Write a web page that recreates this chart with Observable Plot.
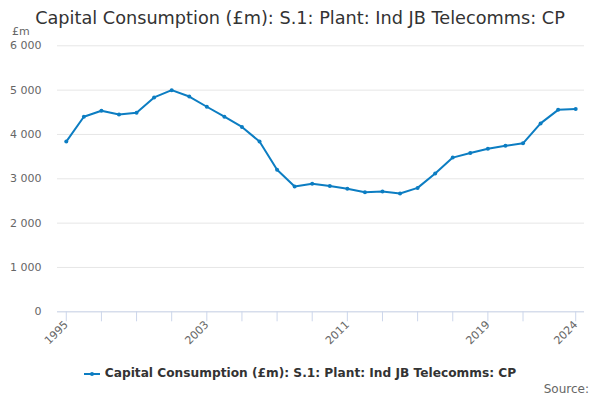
<!DOCTYPE html>
<html>
<head>
<meta charset="utf-8">
<script src="https://cdn.jsdelivr.net/npm/d3@7"></script>
<script src="https://cdn.jsdelivr.net/npm/@observablehq/plot@0.6"></script>
<style>
  html, body { margin: 0; padding: 0; background: #fff; }
  #wrap { position: relative; width: 600px; height: 400px; overflow: hidden; font-family: "DejaVu Sans", Verdana, sans-serif; }
  #title { position: absolute; left: 0; top: 7px; width: 600px; text-align: center; font-size: 17.7px; color: #333333; line-height: 22px; }
  #unit { position: absolute; left: 12px; top: 25px; font-size: 11px; color: #666666; }
  #legend { position: absolute; left: 0; top: 365px; width: 600px; text-align: center; font-size: 12.2px; font-weight: bold; color: #333333; line-height: 16px; }
  #legend svg { vertical-align: middle; margin-right: 5px; }
  #source { position: absolute; right: 11px; top: 382px; font-size: 12px; color: #666666; }
  #chart { position: absolute; left: 0; top: 0; }
</style>
</head>
<body>
<div id="wrap">
  <div id="chart"></div>
  <div id="title"></div>
  <div id="unit">£m</div>
  <div id="legend"></div>
  <div id="source">Source:</div>
</div>
<script>
const title = "Capital Consumption (£m): S.1: Plant: Ind JB Telecomms: CP";
const seriesName = "Capital Consumption (£m): S.1: Plant: Ind JB Telecomms: CP";
const years = [1995,1996,1997,1998,1999,2000,2001,2002,2003,2004,2005,2006,2007,2008,2009,2010,2011,2012,2013,2014,2015,2016,2017,2018,2019,2020,2021,2022,2023,2024];
const values = [3840,4400,4535,4450,4490,4835,5000,4855,4625,4400,4170,3840,3205,2825,2890,2835,2775,2695,2715,2670,2795,3120,3478,3580,3676,3743,3801,4250,4555,4577];
const yTicks = [0,1000,2000,3000,4000,5000,6000];
const xTickMarks = [1995,1997,1999,2001,2003,2005,2007,2009,2011,2013,2015,2017,2019,2021,2024];
const xTickLabels = [1995,2003,2011,2019,2024];
const color = "#0c7dc2";

const data = years.map((y, i) => ({year: y, value: values[i]}));
const fmt = v => d3.format(",")(v).replace(/,/g, "\u00a0");

document.getElementById("title").textContent = title;
document.getElementById("legend").innerHTML =
  `<svg width="16" height="10"><line x1="0" x2="16" y1="5" y2="5" stroke="${color}" stroke-width="2"/><circle cx="8" cy="5" r="2" fill="${color}"/></svg>`;
document.getElementById("legend").appendChild(document.createTextNode(seriesName));

const chart = Plot.plot({
  width: 600,
  height: 400,
  marginLeft: 57,
  marginRight: 16,
  marginTop: 45.3,
  marginBottom: 88.7,
  style: {fontFamily: "DejaVu Sans, Verdana, sans-serif", fontSize: "11px", color: "#666666", background: "transparent"},
  x: {domain: [1994.5, 2024.5]},
  y: {domain: [0, 6000]},
  marks: [
    Plot.gridY(yTicks, {stroke: "#e6e6e6", strokeOpacity: 1}),
    Plot.axisY(yTicks, {tickSize: 0, tickPadding: 16, tickFormat: fmt, label: null, fill: "#666666"}),
    Plot.ruleY([0], {stroke: "#ccd6eb"}),
    Plot.axisX(xTickMarks, {tickSize: 10, tickFormat: () => "", label: null, stroke: "#ccd6eb", strokeOpacity: 1}),
    Plot.axisX(xTickLabels, {tickSize: 0, tickPadding: 11, tickRotate: -45, tickFormat: d => String(d), label: null, fill: "#666666"}),
    Plot.line(data, {x: "year", y: "value", stroke: color, strokeWidth: 2}),
    Plot.dot(data, {x: "year", y: "value", r: 2, fill: color, stroke: null})
  ]
});
document.getElementById("chart").appendChild(chart);
</script>
</body>
</html>
